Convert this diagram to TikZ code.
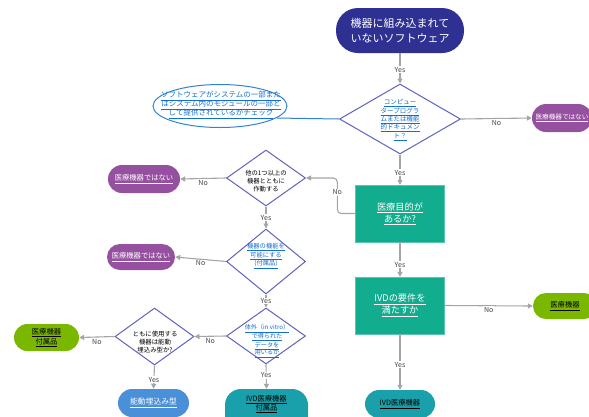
\documentclass[tikz,border=0pt]{standalone}
\usepackage{fontspec}
\setmainfont{Noto Sans CJK JP}
\usetikzlibrary{shapes.geometric,arrows.meta}
\definecolor{navy}{RGB}{46,49,146}
\definecolor{diaedge}{RGB}{95,98,190}
\definecolor{purp}{RGB}{150,80,160}
\definecolor{tealbox}{RGB}{18,172,142}
\definecolor{tealpill}{RGB}{26,160,170}
\definecolor{greenpill}{RGB}{122,184,0}
\definecolor{bluepill}{RGB}{74,144,217}
\definecolor{linkblue}{RGB}{20,110,205}
\definecolor{ellblue}{RGB}{50,130,210}
\definecolor{conngray}{RGB}{165,165,165}
\definecolor{labgray}{RGB}{70,70,70}
\begin{document}
\begin{tikzpicture}[x=1pt,y=-1pt,
  conn/.style={draw=conngray, line width=1.1pt, -{Triangle[length=5pt,width=5pt]}},
  lab/.style={fill=white, inner sep=0.8pt, text=labgray, font=\fontsize{7}{8}\selectfont},
  dia/.style={diamond, draw=diaedge, line width=1pt, fill=white, inner sep=0pt},
  dtxt/.style={align=center, inner sep=0pt, font=\fontsize{6.3}{7.8}\selectfont},
  pill/.style={rectangle, inner sep=0pt, align=center, font=\fontsize{7.3}{9.5}\selectfont},
  box/.style={rectangle, fill=tealbox, draw=tealbox!70!white, inner sep=0pt, minimum width=89pt, minimum height=57pt, align=center, text=white, font=\fontsize{9.2}{12}\selectfont}
]
\useasboundingbox (0,0) rectangle (589,416);

% top terminal
\node[pill, fill=navy, rounded corners=22pt, minimum width=128pt, minimum height=45pt, text=white, font=\fontsize{11}{14.5}\selectfont] (t0) at (400,30.5) {機器に組み込まれて\\いないソフトウェア};

% diamond 1
\node[dia, minimum width=121pt, minimum height=70pt] (d1) at (400,119) {};
\node[dtxt, text=linkblue, font=\fontsize{6.5}{8.3}\selectfont] (d1t) at (400,120) {\underline{コンピュー}\\\underline{タープログラ}\\\underline{ムまたは機能}\\\underline{的ドキュメン}\\\underline{ト？}};

% callout ellipse
\node[ellipse, draw=ellblue, line width=1pt, minimum width=134pt, minimum height=43pt, inner sep=0pt] (el) at (220,106) {};
\node[dtxt, text=linkblue, font=\fontsize{7.5}{9}\selectfont] (elt) at (221,105) {\underline{ソフトウェアがシステムの一部また}\\\underline{はシステム内のモジュールの一部と}\\\underline{して提供されているかチェック}};
\draw[ellblue, line width=1pt] (el.-12) -- (d1.west);

% right purple pill
\node[pill, fill=purp, rounded corners=14pt, minimum width=60pt, minimum height=28pt, text=white, font=\fontsize{6.6}{8}\selectfont] (p1) at (562,118) {\underline{医療機器ではない}};

% teal boxes
\node[box] (r1) at (400,213.5) {\underline{医療目的が}\\\underline{あるか?}};
\node[box] (r2) at (400,305.5) {\underline{IVDの要件を}\\\underline{満たすか}};

% green pill right
\node[pill, fill=greenpill, rounded corners=13pt, minimum width=64pt, minimum height=26pt] (g2) at (565,306) {\underline{医療機器}};

% bottom teal pill
\node[pill, fill=tealpill, rounded corners=14pt, minimum width=70pt, minimum height=28pt] (tp) at (400,404) {\underline{IVD医療機器}};

% diamond 2
\node[dia, minimum width=79pt, minimum height=56pt] (d2) at (266,178) {};
\node[dtxt] (d2t) at (266,181) {他の1つ以上の\\機器とともに\\作動する};
\node[pill, fill=purp, rounded corners=14pt, minimum width=72pt, minimum height=28pt, text=white] (p2) at (144,179) {\underline{医療機器ではない}};

% diamond 3
\node[dia, minimum width=79pt, minimum height=65pt] (d3) at (266,261.5) {};
\node[dtxt, text=linkblue] (d3t) at (266,256) {\underline{機器の機能を}\\\underline{可能にする}\\\underline{(付属品)}};
\node[pill, fill=purp, rounded corners=13pt, minimum width=68pt, minimum height=26pt, text=white] (p3) at (141,257) {\underline{医療機器ではない}};

% diamond 4
\node[dia, minimum width=79pt, minimum height=56pt] (d4) at (266,336) {};
\node[dtxt, text=linkblue, font=\fontsize{6.1}{7.6}\selectfont] (d4t) at (267,341) {\underline{体外（in vitro）}\\\underline{で得られた}\\\underline{データを}\\\underline{用いるか}};
\node[pill, fill=tealpill, rounded corners=16pt, minimum width=83pt, minimum height=44pt, font=\fontsize{7.3}{9}\selectfont] (ta) at (266.5,411) {\underline{IVD医療機器}\\\underline{付属品}\\[8pt]};

% diamond 5
\node[dia, minimum width=79pt, minimum height=57pt] (d5) at (154.5,336.5) {};
\node[dtxt, font=\fontsize{6.4}{8}\selectfont] (d5t) at (155,342) {ともに使用する\\機器は能動\\埋込み型か?};
\node[pill, fill=greenpill, rounded corners=13.5pt, minimum width=65pt, minimum height=27pt] (g1) at (46.5,337.5) {\underline{医療機器}\\\underline{付属品}};
\node[pill, fill=bluepill, rounded corners=14pt, minimum width=71pt, minimum height=28pt, text=white, font=\fontsize{7.8}{9.5}\selectfont] (b1) at (153.5,403) {\underline{能動埋込み型}};

% connectors
\draw[conn] (t0) -- node[lab, pos=0.55] {Yes} (d1.north);
\draw[conn] (d1.east) -- node[lab, yshift=-4pt, pos=0.5] {No} (p1.west);
\draw[conn] (d1.south) -- node[lab, pos=0.6] {Yes} (r1.north);
\draw[conn, rounded corners=4pt] (r1.west) -- ++(-18,0) |- node[lab, pos=0.3] {No} (d2.east);
\draw[conn] (d2.west) -- node[lab, yshift=-4pt] {No} (p2.east);
\draw[conn] (d2.south) -- node[lab] {Yes} (d3.north);
\draw[conn] (d3.west) -- node[lab, yshift=-4pt] {No} (p3.east);
\draw[conn] (d3.south) -- node[lab] {Yes} (d4.north);
\draw[conn] (d4.west) -- node[lab, yshift=-5pt] {No} (d5.east);
\draw[conn] (d4.south) -- node[lab, pos=0.45] {Yes} (ta.north);
\draw[conn] (d5.west) -- node[lab, yshift=-5pt] {No} (g1.east);
\draw[conn] (d5.south) -- node[lab, pos=0.6] {Yes} (b1.north);
\draw[conn] (r1.south) -- node[lab, pos=0.65] {Yes} (r2.north);
\draw[conn] (r2.east) -- node[lab, yshift=-4pt] {No} (g2.west);
\draw[conn] (r2.south) -- node[lab, pos=0.55] {Yes} (tp.north);
\end{tikzpicture}
\end{document}
